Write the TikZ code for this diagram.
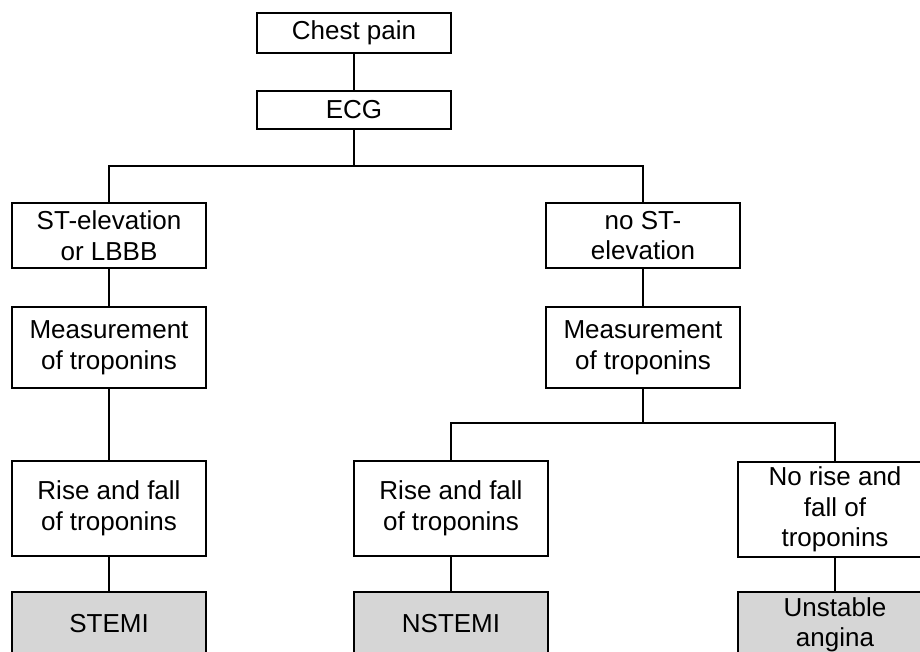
\documentclass[tikz,border=0pt]{standalone}
\usepackage{fontspec}
\setmainfont{Liberation Sans}
\begin{document}
\begin{tikzpicture}[x=1pt,y=-1pt,
  box/.style={draw=black, line width=1.8pt, fill=white, minimum width=194pt,
    inner sep=0pt, align=center, font=\fontsize{26}{30.5}\selectfont},
  endbox/.style={box, fill=black!16},
  conn/.style={draw=black, line width=1.3pt}]
\useasboundingbox (0,0) rectangle (920,651);
\clip (0,0) rectangle (920,651);
\node[box, minimum height=40pt] (chest) at (354,33) {Chest pain};
\node[box, minimum height=38pt] (ecg) at (354,110) {ECG};
\node[box, minimum height=65pt] (st) at (109,235.5) {ST-elevation\\or LBBB};
\node[box, minimum height=65pt] (nost) at (643,235.5) {no ST-\\elevation};
\node[box, minimum height=81pt] (meas1) at (109,347.5) {Measurement\\of troponins};
\node[box, minimum height=81pt] (meas2) at (643,347.5) {Measurement\\of troponins};
\node[box, minimum height=95pt] (rise1) at (109,508.5) {Rise and fall\\of troponins};
\node[box, minimum height=95pt] (rise2) at (451,508.5) {Rise and fall\\of troponins};
\node[box, minimum height=95pt] (norise) at (835,509.5) {No rise and\\fall of\\troponins};
\node[endbox, minimum height=64pt] (stemi) at (109,624) {STEMI};
\node[endbox, minimum height=64pt] (nstemi) at (451,624) {NSTEMI};
\node[endbox, minimum height=66pt] (ua) at (835,625) {Unstable\\angina};
\coordinate (j1) at (354,166);
\coordinate (j2) at (643,423);
\draw[conn] (chest) -- (ecg);
\draw[conn] (ecg.south) -- (j1);
\draw[conn] (j1) -| (st.north);
\draw[conn] (j1) -| (nost.north);
\draw[conn] (st) -- (meas1);
\draw[conn] (nost) -- (meas2);
\draw[conn] (meas1) -- (rise1);
\draw[conn] (meas2.south) -- (j2);
\draw[conn] (j2) -| (rise2.north);
\draw[conn] (j2) -| (norise.north);
\draw[conn] (rise1) -- (stemi);
\draw[conn] (rise2) -- (nstemi);
\draw[conn] (norise) -- (ua);
\end{tikzpicture}
\end{document}
